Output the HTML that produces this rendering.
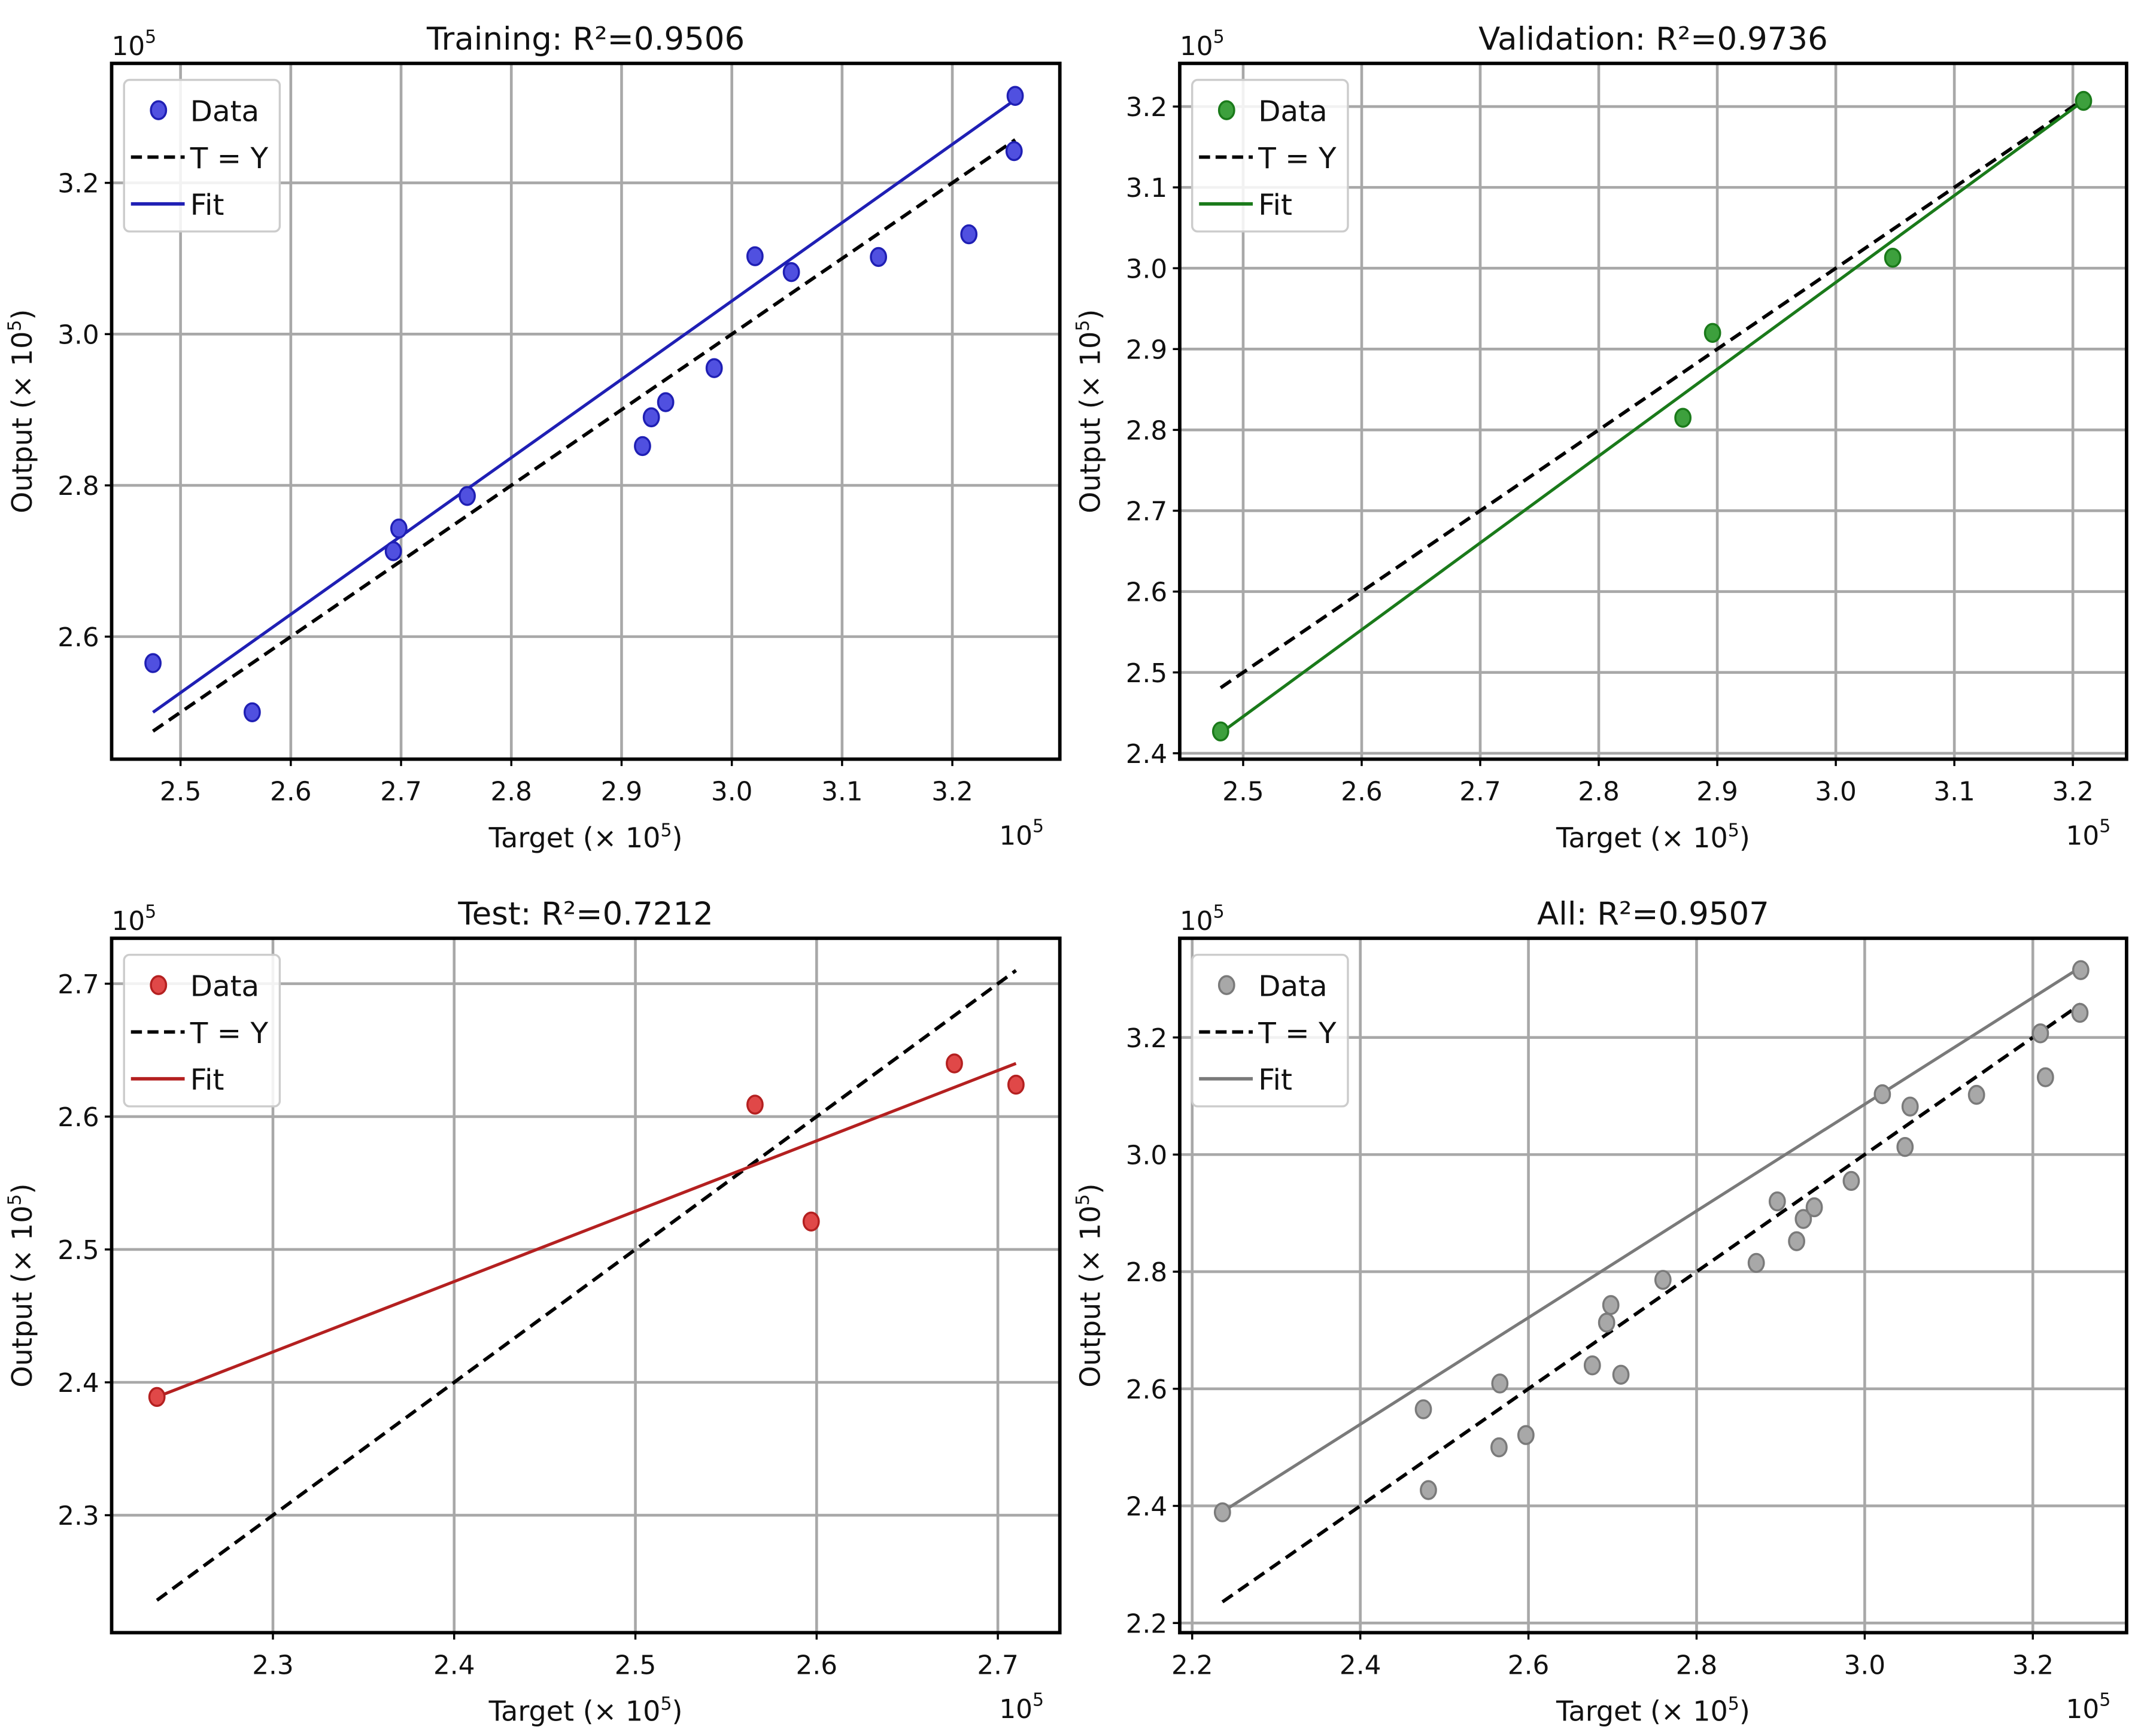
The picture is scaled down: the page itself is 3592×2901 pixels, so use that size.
<!DOCTYPE html>
<html><head><meta charset="utf-8"><style>
html,body{margin:0;padding:0;background:#fff;}
svg{display:block;font-family:"DejaVu Sans","Liberation Sans",sans-serif;}
</style></head><body>
<svg id="fig" xmlns="http://www.w3.org/2000/svg" width="3592" height="2901" viewBox="0 0 1560 1260" preserveAspectRatio="none"></svg>
<script>
// ---- data ----
const trainX = [2.475,2.565,2.693,2.698,2.760,2.919,2.927,2.940,2.984,3.021,3.054,3.133,3.215,3.256,3.257];
const trainY = [2.565,2.500,2.713,2.743,2.786,2.852,2.890,2.910,2.955,3.103,3.082,3.102,3.132,3.242,3.315];
const trainFit = [2.500,3.310];
const valX = [2.481,2.871,2.896,3.048,3.209];
const valY = [2.427,2.815,2.920,3.013,3.207];
const valFit = [2.425,3.207];
const testX = [2.236,2.566,2.597,2.676,2.710];
const testY = [2.389,2.609,2.521,2.640,2.624];
const testFit = [2.389,2.640];
const allX = trainX.concat(valX, testX);
const allY = trainY.concat(valY, testY);
const allFit = [2.390,3.320];
const trainXTicks = [2.5,2.6,2.7,2.8,2.9,3.0,3.1,3.2];
const trainYTicks = [2.6,2.8,3.0,3.2];
const valXTicks = [2.5,2.6,2.7,2.8,2.9,3.0,3.1,3.2];
const valYTicks = [2.4,2.5,2.6,2.7,2.8,2.9,3.0,3.1,3.2];
const testXTicks = [2.3,2.4,2.5,2.6,2.7];
const testYTicks = [2.3,2.4,2.5,2.6,2.7];
const allXTicks = [2.2,2.4,2.6,2.8,3.0,3.2];
const allYTicks = [2.2,2.4,2.6,2.8,3.0,3.2];

const NS = "http://www.w3.org/2000/svg";
const svg = document.getElementById('fig');
function mk(tag, attrs, parent, text){
  const e = document.createElementNS(NS, tag);
  for (const k in attrs) e.setAttribute(k, attrs[k]);
  if (text !== undefined) e.textContent = text;
  (parent||svg).appendChild(e);
  return e;
}

const panels = [
 {name:'training', title:'Training: R²=0.9506', box:[81,46,769,551], xd:[2.4375,3.2975], yd:[2.438,3.358],
  xs:trainX, ys:trainY, fit:trainFit, xt:trainXTicks, yt:trainYTicks, col:'#1f1fb4', fill:'#5050e0', prec:1},
 {name:'validation', title:'Validation: R²=0.9736', box:[856,46,1543,551], xd:[2.4465,3.2453], yd:[2.3927,3.2534],
  xs:valX, ys:valY, fit:valFit, xt:valXTicks, yt:valYTicks, col:'#1a7a1a', fill:'#3da03d', prec:1},
 {name:'test', title:'Test: R²=0.7212', box:[81,681,769,1185], xd:[2.2110,2.7342], yd:[2.2116,2.7342],
  xs:testX, ys:testY, fit:testFit, xt:testXTicks, yt:testYTicks, col:'#b42020', fill:'#e04848', prec:1},
 {name:'all', title:'All: R²=0.9507', box:[856,681,1543,1185], xd:[2.1852,3.3115], yd:[2.1835,3.3694],
  xs:allX, ys:allY, fit:allFit, xt:allXTicks, yt:allYTicks, col:'#7a7a7a', fill:'#a8a8a8', prec:1}
];

panels.forEach(p=>{
  const [L,T,R,B] = p.box;
  const g = mk('g',{});
  
  
  const sx = v => L + (v - p.xd[0])/(p.xd[1]-p.xd[0])*(R-L);
  const sy = v => B - (v - p.yd[0])/(p.yd[1]-p.yd[0])*(B-T);
  // grid
  p.xt.forEach(t=>{
    const l = mk('line',{x1:sx(t),x2:sx(t),y1:T,y2:B,stroke:'#a8a8a8','stroke-width':2},g);
     
    mk('line',{x1:sx(t),x2:sx(t),y1:B,y2:B+5,stroke:'#000','stroke-width':1.5},g);
    const tx = mk('text',{x:sx(t),y:B+30,'font-size':19,'text-anchor':'middle',fill:'#111'},g,t.toFixed(p.prec));
     
  });
  p.yt.forEach(t=>{
    const l = mk('line',{x1:L,x2:R,y1:sy(t),y2:sy(t),stroke:'#a8a8a8','stroke-width':2},g);
     
    mk('line',{x1:L-5,x2:L,y1:sy(t),y2:sy(t),stroke:'#000','stroke-width':1.5},g);
    const tx = mk('text',{x:L-9,y:sy(t)+7,'font-size':19,'text-anchor':'end',fill:'#111'},g,t.toFixed(p.prec));
     
  });
  // clip
  const cid = 'clip-'+p.name;
  const cp = mk('clipPath',{id:cid},g); mk('rect',{x:L,y:T,width:R-L,height:B-T},cp);
  const inner = mk('g',{'clip-path':'url(#'+cid+')'},g);
  // T=Y line
  const xmin = Math.min(...p.xs), xmax = Math.max(...p.xs);
  const d = mk('line',{x1:sx(xmin),y1:sy(xmin),x2:sx(xmax),y2:sy(xmax),stroke:'#000','stroke-width':2.5,'stroke-dasharray':'9,5'},inner);
   
  const f = mk('line',{x1:sx(xmin),y1:sy(p.fit[0]),x2:sx(xmax),y2:sy(p.fit[1]),stroke:p.col,'stroke-width':2.2},inner);
   
  p.xs.forEach((x,i)=>{
    const c = mk('ellipse',{cx:sx(x),cy:sy(p.ys[i]),rx:5.5,ry:6.5,fill:p.fill,stroke:p.col,'stroke-width':1.5},inner);
     
  });
  // frame
  const fr = mk('rect',{x:L,y:T,width:R-L,height:B-T,fill:'none',stroke:'#000','stroke-width':2.5},g);
   
  // title
  const ti = mk('text',{x:(L+R)/2,y:T-10,'font-size':23,'text-anchor':'middle',fill:'#111'},g,p.title);
   
  // offsets
  const o1 = mk('text',{x:L,y:T-6,'font-size':19,fill:'#111'},g);
   
  mk('tspan',{},o1,'10'); mk('tspan',{dy:-9,'font-size':13},o1,'5');
  const o2 = mk('text',{x:R-44,y:B+62,'font-size':19,fill:'#111'},g);
   
  mk('tspan',{},o2,'10'); mk('tspan',{dy:-9,'font-size':13},o2,'5');
  // axis labels
  const xl = mk('text',{x:(L+R)/2,y:B+64,'font-size':20,'text-anchor':'middle',fill:'#111'},g);
   
  mk('tspan',{},xl,'Target (× 10'); mk('tspan',{dy:-8,'font-size':13},xl,'5'); mk('tspan',{dy:8},xl,')');
  const yx = L-58, yy=(T+B)/2;
  const yl = mk('text',{x:yx,y:yy,'font-size':20,'text-anchor':'middle',fill:'#111',transform:`rotate(-90 ${yx} ${yy})`},g);
   
  mk('tspan',{},yl,'Output (× 10'); mk('tspan',{dy:-8,'font-size':13},yl,'5'); mk('tspan',{dy:8},yl,')');
  // legend
  const lg = mk('g',{},g);
   
  const lx=L+9, ly=T+12;
  mk('rect',{x:lx,y:ly,width:113,height:110,rx:4,fill:'#fff','fill-opacity':0.85,stroke:'#cccccc','stroke-width':1.5},lg);
  mk('ellipse',{cx:lx+25,cy:ly+22,rx:5.5,ry:6.5,fill:p.fill,stroke:p.col,'stroke-width':1.5},lg);
  mk('text',{x:lx+48,y:ly+30,'font-size':21,fill:'#111'},lg,'Data');
  mk('line',{x1:lx+5,x2:lx+44,y1:ly+56,y2:ly+56,stroke:'#000','stroke-width':2.5,'stroke-dasharray':'8,4'},lg);
  mk('text',{x:lx+48,y:ly+64,'font-size':21,fill:'#111'},lg,'T = Y');
  mk('line',{x1:lx+5,x2:lx+44,y1:ly+90,y2:ly+90,stroke:p.col,'stroke-width':2.5},lg);
  mk('text',{x:lx+48,y:ly+98,'font-size':21,fill:'#111'},lg,'Fit');
});
</script>
</body></html>
